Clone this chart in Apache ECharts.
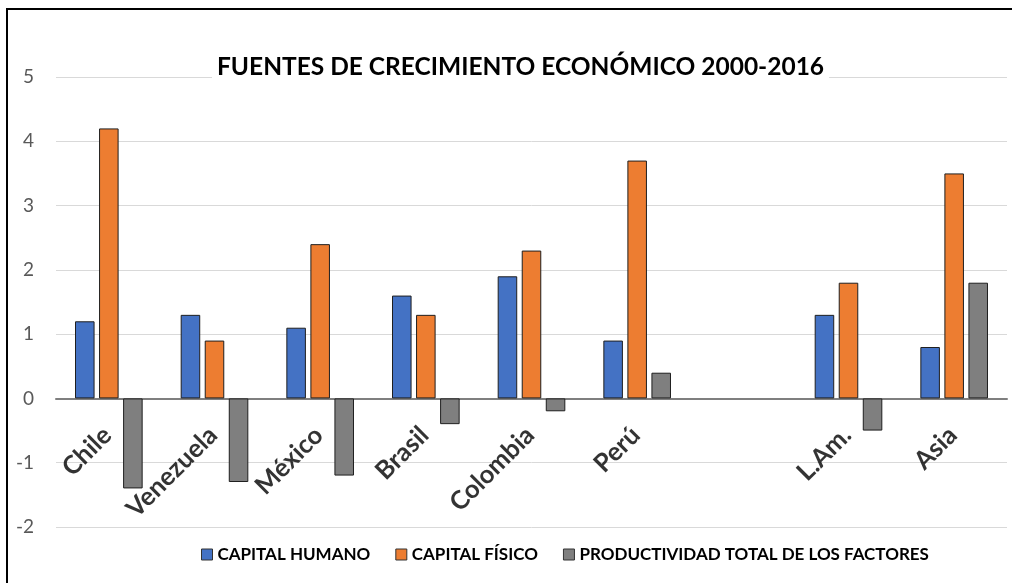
<!DOCTYPE html>
<html>
<head>
<meta charset="utf-8">
<script src="https://cdn.jsdelivr.net/npm/echarts@6/dist/echarts.min.js"></script>
<style>
html,body{margin:0;padding:0;background:#fff;}
#c{width:1012px;height:583px;}
</style>
</head>
<body>
<div id="c"></div>
<script>
const categories = ['Chile','Venezuela','México','Brasil','Colombia','Perú','','L.Am.','Asia'];
const capitalHumano = [1.2, 1.3, 1.1, 1.6, 1.9, 0.9, null, 1.3, 0.8];
const capitalFisico = [4.2, 0.9, 2.4, 1.3, 2.3, 3.7, null, 1.8, 3.5];
const ptf = [-1.4, -1.3, -1.2, -0.4, -0.2, 0.4, null, -0.5, 1.8];
const seriesNames = ['CAPITAL HUMANO','CAPITAL FÍSICO','PRODUCTIVIDAD TOTAL DE LOS FACTORES'];
const titleText = 'FUENTES DE CRECIMIENTO ECONÓMICO 2000-2016';

const FONT = 'Lato, "Open Sans", sans-serif';
const chart = echarts.init(document.getElementById('c'), null, {renderer:'canvas'});
function bar(name, data, color, border){
  return {
    name, type:'bar', data,
    barWidth:'18.5%', barGap:'23%', barCategoryGap:'36%',
    itemStyle:{color, borderColor:border, borderWidth:1},
    emphasis:{disabled:true}
  };
}
chart.setOption({
  animation:false,
  backgroundColor:'#fff',
  title:{
    text:titleText, left:212, top:53,
    backgroundColor:'#fff', padding:[2,5],
    textStyle:{fontFamily:FONT, fontWeight:'bold', fontSize:24.5, color:'#000'}
  },
  legend:{
    bottom:15, left:196, itemWidth:11, itemHeight:11, itemGap:25,
    icon:'rect',
    itemStyle:{borderColor:'#333', borderWidth:1},
    textStyle:{fontFamily:FONT, fontWeight:'bold', fontSize:17, color:'#000'},
    data:seriesNames
  },
  grid:{left:56, right:5, top:77, bottom:56, containLabel:false, outerBoundsMode:'none'},
  xAxis:{
    type:'category', data:categories,
    axisTick:{show:false},
    axisLine:{onZero:true, lineStyle:{color:'#7f7f7f', width:2}},
    axisLabel:{show:false},
    splitLine:{show:false}
  },
  yAxis:{
    type:'value', min:-2, max:5, interval:1,
    axisLine:{show:false}, axisTick:{show:false},
    axisLabel:{margin:22, fontFamily:FONT, fontSize:19, color:'#595959'},
    splitLine:{lineStyle:{color:'#d9d9d9', width:1}}
  },
  graphic:[{
    type:'polyline', shape:{points:[[7,583],[7,9],[1012,9]]},
    style:{stroke:'#000', lineWidth:2, fill:null}, z:100
  }],
  series:[
    bar(seriesNames[0], capitalHumano, '#4472C4', '#1f1f1f'),
    bar(seriesNames[1], capitalFisico, '#ED7D31', '#1f1f1f'),
    bar(seriesNames[2], ptf, '#7F7F7F', '#1f1f1f'),
    {
      type:'scatter', name:'labels', symbolSize:0, silent:true, z:10,
      data:categories.map(c => ({value:[c,0], name:c})),
      label:{
        show:true, position:'inside', formatter:p => p.name,
        rotate:45, align:'right', verticalAlign:'middle', offset:[-24,22],
        fontFamily:FONT, fontWeight:'bold', fontSize:25.5, color:'#000'
      },
      emphasis:{disabled:true}
    }
  ]
});
</script>
</body>
</html>
